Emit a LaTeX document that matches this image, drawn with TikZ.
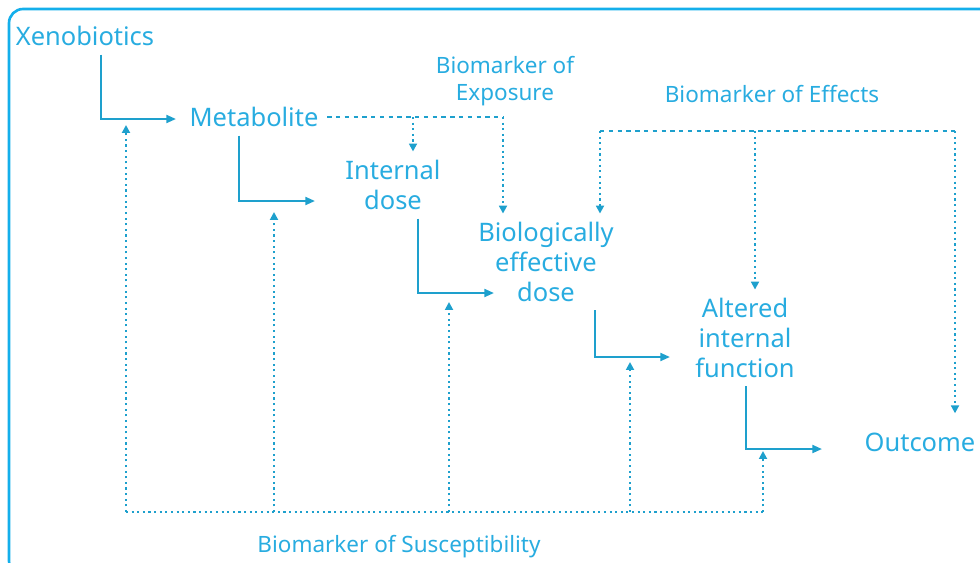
\documentclass[tikz,border=0pt]{standalone}
\usepackage{fontspec}
\setmainfont{Noto Sans}
\usetikzlibrary{arrows.meta}
\definecolor{bmtext}{RGB}{40,172,224}
\definecolor{bmline}{RGB}{30,160,205}
\definecolor{bmframe}{RGB}{20,175,235}

\begin{document}
\begin{tikzpicture}[
    x=0.02cm, y=-0.02cm,
    every node/.style={text=bmtext, align=center, inner sep=0pt},
    stage/.style={font=\fontsize{14.5}{17}\selectfont, outer sep=5pt},
    marker/.style={font=\fontsize{12.8}{15.5}\selectfont},
    flow/.style={draw=bmline, line width=1.2pt, -{Triangle[length=5.5pt,width=4.5pt]}},
    expo/.style={draw=bmline, line width=1.1pt, dash pattern=on 2.5pt off 2.5pt},
    dotline/.style={draw=bmline, line width=1.1pt, dash pattern=on 1.2pt off 2pt},
    tip/.style={-{Triangle[length=4.5pt,width=4.5pt]}}
  ]
  \clip (0,0) rectangle (980,562);
  \draw[bmframe, line width=1.5pt, rounded corners=8pt] (9,9) rectangle (995,575);

  % stages
  \node[stage] (xeno)    at (85,36)   {Xenobiotics};
  \node[stage] (meta)    at (254,117) {Metabolite};
  \node[stage] (intdose) at (393,185) {Internal\\dose};
  \node[stage] (bed)     at (546,262) {Biologically\\effective\\dose};
  \node[stage] (aif)     at (745,338) {Altered\\internal\\function};
  \node[stage] (outc)    at (920,442) {Outcome};

  % biomarkers
  \node[marker] (bexp) at (505,81)  {Biomarker of\\Exposure};
  \node[marker] (beff) at (772,94)  {Biomarker of Effects};
  \node[marker] (bsus) at (399,547) {Biomarker of Susceptibility};

  % arrow ends
  \coordinate (t1) at (176,119);
  \coordinate (t2) at (315,201);
  \coordinate (t3) at (494,293);
  \coordinate (t4) at (670,357);
  \coordinate (t5) at (822,449);

  \draw[flow] (xeno.south -| 101,0)    |- (t1);
  \draw[flow] (meta.south -| 239,0)    |- (t2);
  \draw[flow] (intdose.south -| 418,0) |- (t3);
  \draw[flow] (bed.south -| 595,0)     |- (t4);
  \draw[flow] (aif.south -| 746,0)     |- (t5);

  % exposure
  \coordinate (ex1) at (413,117);
  \coordinate (ex2) at (503,117);
  \draw[expo] (meta.east) -- (ex2);
  \draw[dotline,tip] (ex1) -- (intdose.north -| ex1);
  \draw[dotline,tip] (ex2) -- (bed.north -| ex2);

  % effects
  \coordinate (ef1) at (600,131);
  \coordinate (ef2) at (755,131);
  \coordinate (ef3) at (955,131);
  \draw[expo] (ef1) -- (ef3);
  \draw[dotline,tip] (ef1) -- (bed.north -| ef1);
  \draw[dotline,tip] (ef2) -- (aif.north -| ef2);
  \draw[dotline,tip,shorten >=6pt] (ef3) -- (outc.north -| ef3);

  % susceptibility
  \coordinate (sL) at (126,512);
  \coordinate (sR) at (763,512);
  \draw[dotline] (sL) -- (sR);
  \foreach \x/\y in {126/125, 274/212, 449/302, 630/362, 763/451}
    \draw[dotline,tip] (sL -| \x,0) -- (\x,\y);
\end{tikzpicture}
\end{document}
